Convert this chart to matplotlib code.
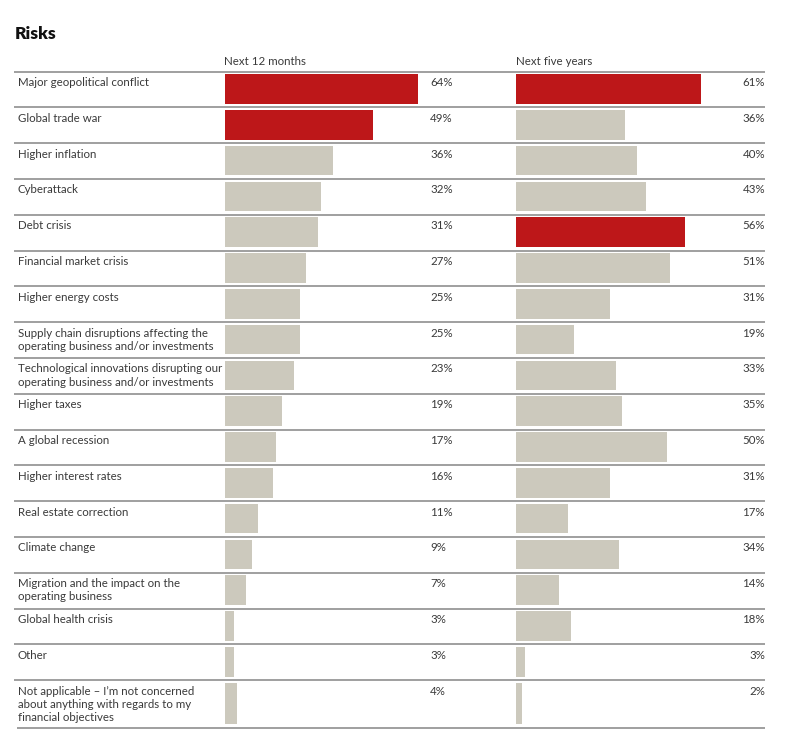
import matplotlib.pyplot as plt
import numpy as np

plt.rcParams['font.family'] = ['Lato', 'DejaVu Sans']

labels = ["Major geopolitical conflict", "Global trade war", "Higher inflation",
          "Cyberattack", "Debt crisis", "Financial market crisis", "Higher energy costs",
          "Supply chain disruptions affecting the\noperating business and/or investments",
          "Technological innovations disrupting our\noperating business and/or investments",
          "Higher taxes", "A global recession", "Higher interest rates",
          "Real estate correction", "Climate change",
          "Migration and the impact on the\noperating business",
          "Global health crisis", "Other",
          "Not applicable \u2013 I\u2019m not concerned\nabout anything with regards to my\nfinancial objectives"]
next_12_months = [64, 49, 36, 32, 31, 27, 25, 25, 23, 19, 17, 16, 11, 9, 7, 3, 3, 4]
next_five_years = [61, 36, 40, 43, 56, 51, 31, 19, 33, 35, 50, 31, 17, 34, 14, 18, 3, 2]
headers = ["Next 12 months", "Next five years"]

red = '#bd1719'
beige = '#ccc9bd'
txt = '#3a3a3a'
linec = '#858585'

W, H = 800, 751
fig = plt.figure(figsize=(W / 100, H / 100), dpi=100)
ax = fig.add_axes([0, 0, 1, 1])
ax.set_xlim(0, W)
ax.set_ylim(H, 0)
ax.axis('off')

# row layout in pixels (top of table, row heights)
top = 71.5
heights = np.array([35.8] * 17 + [47.6])
tops = top + np.concatenate([[0], np.cumsum(heights)[:-1]])
bottoms = tops + heights
pad_t, pad_b = 2.7, 3.5
centers = (tops + pad_t + bottoms - pad_b) / 2
bar_h = heights - pad_t - pad_b

px_per_pct = 3.02
panels = [(224.7, next_12_months), (516.3, next_five_years)]

for x0, vals in panels:
    bax = fig.add_axes([x0 / W, 0, 200 / W, 1])
    bax.set_xlim(0, 200 / px_per_pct)
    bax.set_ylim(H, 0)
    bax.axis('off')
    top2 = sorted(vals, reverse=True)[:2]
    colors = [red if v in top2 else beige for v in vals]
    bax.barh(centers, vals, height=bar_h, left=0, color=colors, linewidth=0)

# title and headers
ax.text(15, 39, "Risks", fontsize=12.5, fontweight='heavy', color='#111111', va='baseline')
ax.text(224.5, 65, headers[0], fontsize=8.3, color=txt, va='baseline')
ax.text(516, 65, headers[1], fontsize=8.3, color=txt, va='baseline')

# row lines
for i, t in enumerate(tops):
    ax.plot([14, 765], [t, t], color=linec, lw=1.1, solid_capstyle='butt')
ax.plot([17, 765], [bottoms[-1], bottoms[-1]], color=linec, lw=1.1, solid_capstyle='butt')

# labels and values
for i, lab in enumerate(labels):
    for j, line in enumerate(lab.split('\n')):
        ax.text(18, tops[i] + 14.5 + j * 13.3, line, fontsize=8.3, color=txt, va='baseline')
    ax.text(430, tops[i] + 14.5, f"{next_12_months[i]}%", fontsize=8.3, color=txt,
            va='baseline', ha='left')
    ax.text(765, tops[i] + 14.5, f"{next_five_years[i]}%", fontsize=8.3, color=txt,
            va='baseline', ha='right')

fig.savefig('out.png', dpi=100)
